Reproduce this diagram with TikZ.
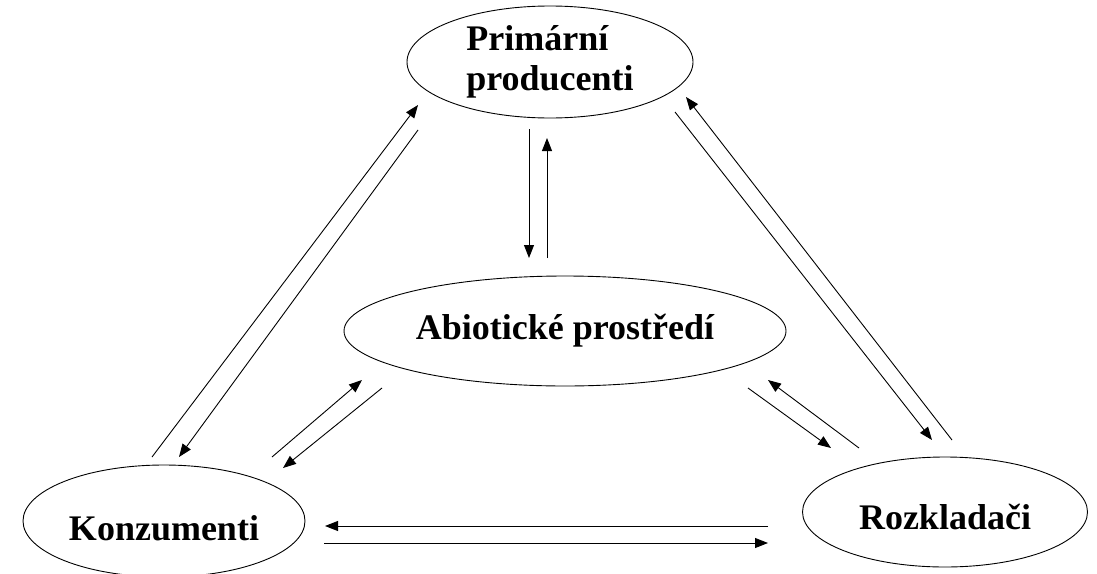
\documentclass[tikz,border=0pt]{standalone}
\usepackage{fontspec}
\setmainfont{Liberation Serif}
\usetikzlibrary{arrows.meta,calc,shapes.geometric}

\begin{document}
\begin{tikzpicture}[
    x=1pt, y=-1pt,
    oval/.style={draw, ellipse, line width=0.9pt, inner sep=0pt, align=left,
        font=\fontsize{36}{40}\selectfont\bfseries},
    arrow/.style={-{Triangle[length=13pt,width=10pt]}, line width=0.9pt}
]
    \useasboundingbox (0,0) rectangle (1097,573);

    % Ecosystem components
    \node[oval, minimum width=286pt, minimum height=112pt] (prod) at (550,62) {Primární\\producenti};
    \node[oval, minimum width=442pt, minimum height=110pt] (abio) at (565,331) {Abiotické prostředí};
    \node[oval, minimum width=282pt, minimum height=112pt, text height=40pt] (kons) at (164,521) {Konzumenti};
    \node[oval, minimum width=285pt, minimum height=110pt, text height=35pt] (rozk) at (945,512) {Rozkladači};

    % Konzumenti <-> Primární producenti
    \draw[arrow] ($(kons)+(-12,-64)$) -- ($(prod)+(-132,43)$);
    \draw[arrow] ($(prod)+(-132,68)$) -- ($(kons)+(15,-64)$);

    % Konzumenti <-> Abiotické prostředí
    \draw[arrow] ($(kons)+(108,-64)$) -- ($(abio)+(-203,49)$);
    \draw[arrow] ($(abio)+(-183,57)$) -- ($(kons)+(119,-53)$);

    % Primární producenti <-> Abiotické prostředí
    \draw[arrow] ($(prod)+(-21,67)$) -- ($(abio)+(-36,-73)$);
    \draw[arrow] ($(abio)+(-18,-73)$) -- ($(prod)+(-3,76)$);

    % Rozkladači <-> Primární producenti
    \draw[arrow] ($(rozk)+(7,-72)$) -- ($(prod)+(136,35)$);
    \draw[arrow] ($(prod)+(125,50)$) -- ($(rozk)+(-13,-72)$);

    % Rozkladači <-> Abiotické prostředí
    \draw[arrow] ($(rozk)+(-86,-64)$) -- ($(abio)+(203,49)$);
    \draw[arrow] ($(abio)+(183,57)$) -- ($(rozk)+(-114,-64)$);

    % Rozkladači <-> Konzumenti
    \draw[arrow] ($(rozk)+(-177,14)$) -- ($(kons)+(161,5)$);
    \draw[arrow] ($(kons)+(160,22)$) -- ($(rozk)+(-177,31)$);
\end{tikzpicture}
\end{document}
